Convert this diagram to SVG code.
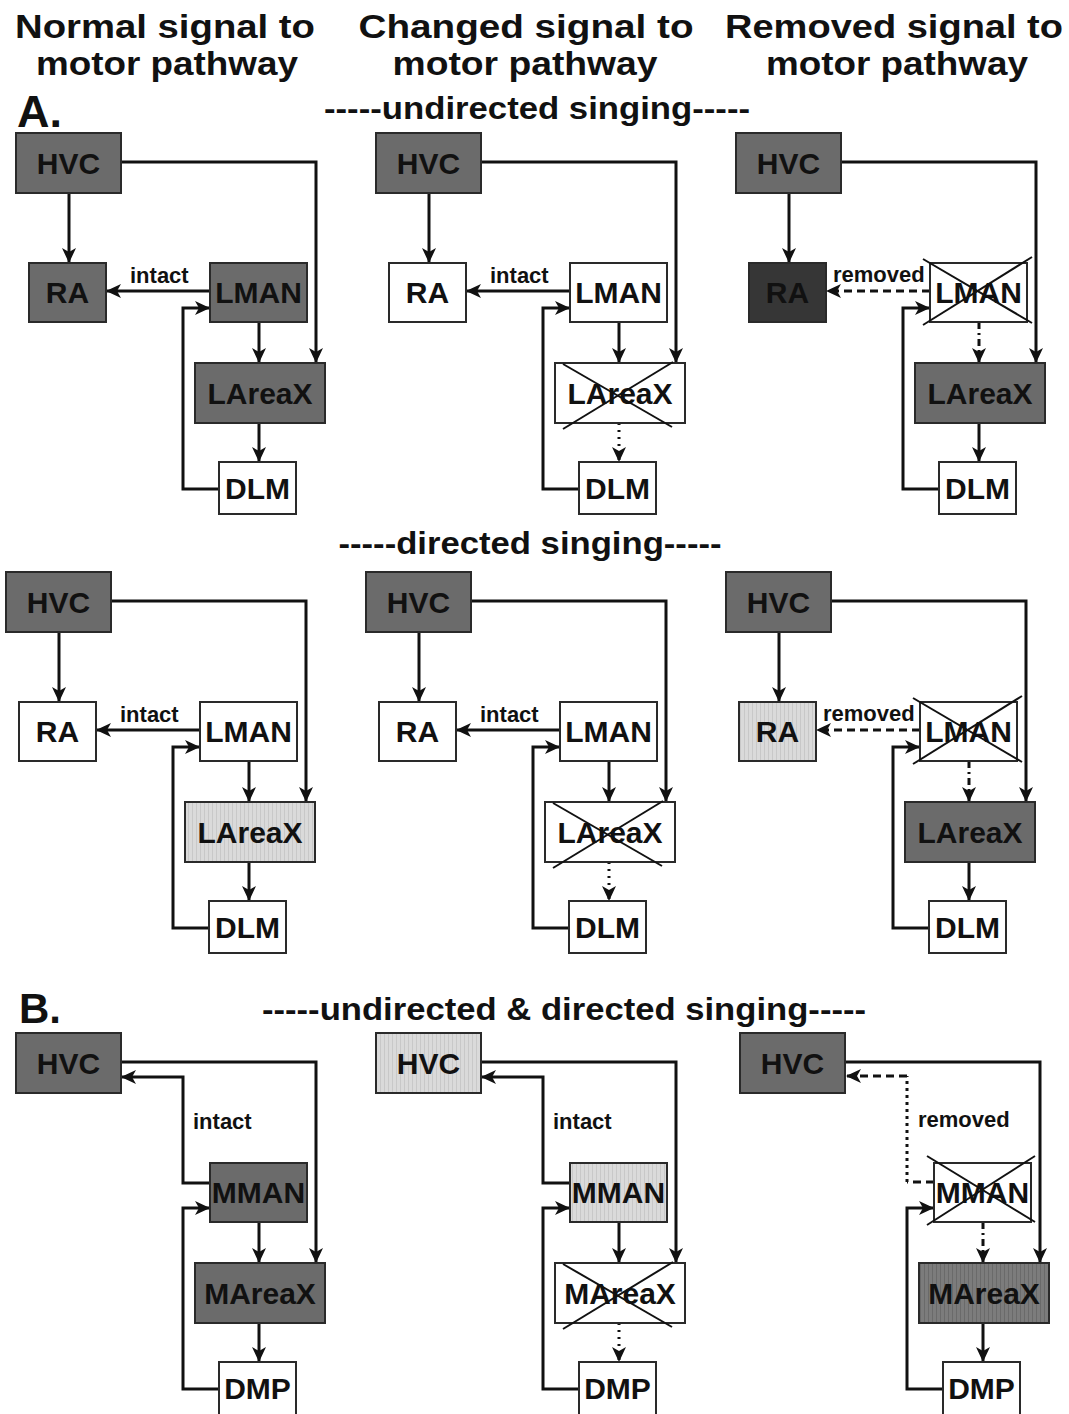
<svg xmlns="http://www.w3.org/2000/svg" width="1069" height="1414" viewBox="0 0 1069 1414">
<defs>
<style>
.bg{fill:#fff}
rect.b{stroke:#2a2a2a;stroke-width:2}
.dark{fill:#6b6b6b}
.vdark{fill:#363636}
.white{fill:#fff}
.light{fill:url(#lt)}
.med{fill:url(#md)}
text{font-family:"Liberation Sans",Arial,sans-serif;font-weight:bold;fill:#111}
.lbl{font-size:30px;text-anchor:middle}
.hd{font-size:34px;text-anchor:middle}
.sub{font-size:32px;text-anchor:middle}
.sm{font-size:22px}
.c{fill:none;stroke:#111;stroke-width:3}
.a{marker-end:url(#arr)}
.dash{stroke-dasharray:8 5}
.dd{stroke-dasharray:7 4 2 4}
.dot{stroke-dasharray:2 5}
.vdot{stroke-dasharray:3 4}
.x{stroke:#111;stroke-width:2}
</style>
<marker id="arr" markerUnits="userSpaceOnUse" markerWidth="16" markerHeight="14" refX="15" refY="7" orient="auto">
<path d="M0,0 L15,7 L0,14 L4,7 Z" fill="#111"/>
</marker>
<pattern id="lt" width="4" height="4" patternUnits="userSpaceOnUse"><rect width="4" height="4" fill="#dadada"/><rect width="1" height="4" fill="#c8c8c8"/></pattern>
<pattern id="md" width="4" height="4" patternUnits="userSpaceOnUse"><rect width="4" height="4" fill="#7c7c7c"/><rect width="1" height="4" fill="#6a6a6a"/></pattern>
</defs>
<rect class="bg" x="0" y="0" width="1069" height="1414"/>

<g id="titles">
<text class="hd" x="165" y="38" textLength="300" lengthAdjust="spacingAndGlyphs">Normal signal to</text>
<text class="hd" x="167" y="75" textLength="262" lengthAdjust="spacingAndGlyphs">motor pathway</text>
<text class="hd" x="526" y="38" textLength="335" lengthAdjust="spacingAndGlyphs">Changed signal to</text>
<text class="hd" x="525" y="75" textLength="265" lengthAdjust="spacingAndGlyphs">motor pathway</text>
<text class="hd" x="894" y="38" textLength="338" lengthAdjust="spacingAndGlyphs">Removed signal to</text>
<text class="hd" x="897" y="75" textLength="262" lengthAdjust="spacingAndGlyphs">motor pathway</text>
<text x="17" y="127" style="font-size:45px">A.</text>
<text class="sub" x="537" y="119" textLength="426" lengthAdjust="spacingAndGlyphs">-----undirected singing-----</text>
<text class="sub" x="530" y="554" textLength="383" lengthAdjust="spacingAndGlyphs">-----directed singing-----</text>
<text x="19" y="1023" style="font-size:42px">B.</text>
<text class="sub" x="564" y="1020" textLength="604" lengthAdjust="spacingAndGlyphs">-----undirected &amp; directed singing-----</text>
</g>

<g id="connectors">
<!-- Row 1 left -->
<path class="c a" d="M69,193 V263"/>
<path class="c a" d="M121,162 H316 V363"/>
<path class="c a" d="M210,291 H106"/>
<path class="c a" d="M259,322 V363"/>
<path class="c a" d="M259,423 V462"/>
<path class="c a" d="M219,489 H183 V308 H210"/>
<!-- Row 1 middle -->
<path class="c a" d="M429,193 V263"/>
<path class="c a" d="M481,162 H676 V363"/>
<path class="c a" d="M570,291 H466"/>
<path class="c a" d="M619,322 V363"/>
<path class="c a dot" d="M619,423 V462"/>
<path class="c a" d="M579,489 H543 V308 H570"/>
<!-- Row 1 right -->
<path class="c a" d="M789,193 V263"/>
<path class="c a" d="M841,162 H1036 V363"/>
<path class="c a dash" d="M930,291 H826"/>
<path class="c a dd" d="M979,322 V363"/>
<path class="c a" d="M979,423 V462"/>
<path class="c a" d="M939,489 H903 V308 H930"/>
<!-- Row 2 left -->
<path class="c a" d="M59,632 V702"/>
<path class="c a" d="M111,601 H306 V802"/>
<path class="c a" d="M200,730 H96"/>
<path class="c a" d="M249,761 V802"/>
<path class="c a" d="M249,862 V901"/>
<path class="c a" d="M209,928 H173 V747 H200"/>
<!-- Row 2 middle -->
<path class="c a" d="M419,632 V702"/>
<path class="c a" d="M471,601 H666 V802"/>
<path class="c a" d="M560,730 H456"/>
<path class="c a" d="M609,761 V802"/>
<path class="c a dot" d="M609,862 V901"/>
<path class="c a" d="M569,928 H533 V747 H560"/>
<!-- Row 2 right -->
<path class="c a" d="M779,632 V702"/>
<path class="c a" d="M831,601 H1026 V802"/>
<path class="c a dash" d="M920,730 H816"/>
<path class="c a dd" d="M969,761 V802"/>
<path class="c a" d="M969,862 V901"/>
<path class="c a" d="M929,928 H893 V747 H920"/>
<!-- Row 3 left -->
<path class="c a" d="M121,1062 H316 V1263"/>
<path class="c a" d="M210,1183 H183 V1077 H121"/>
<path class="c a" d="M259,1222 V1263"/>
<path class="c a" d="M259,1323 V1362"/>
<path class="c a" d="M219,1389 H183 V1208 H210"/>
<!-- Row 3 middle -->
<path class="c a" d="M481,1062 H676 V1263"/>
<path class="c a" d="M570,1183 H543 V1077 H481"/>
<path class="c a" d="M619,1222 V1263"/>
<path class="c a dot" d="M619,1323 V1362"/>
<path class="c a" d="M579,1389 H543 V1208 H570"/>
<!-- Row 3 right -->
<path class="c a" d="M845,1062 H1040 V1263"/>
<path class="c dash" d="M934,1182 H907"/>
<path class="c vdot" d="M907,1182 V1076"/>
<path class="c a dash" d="M907,1076 H846"/>
<path class="c a dd" d="M983,1222 V1263"/>
<path class="c a" d="M983,1323 V1362"/>
<path class="c a" d="M943,1389 H907 V1208 H934"/>
</g>

<g id="edge-labels">
<text class="sm" x="130" y="283">intact</text>
<text class="sm" x="490" y="283">intact</text>
<text class="sm" x="833" y="282">removed</text>
<text class="sm" x="120" y="722">intact</text>
<text class="sm" x="480" y="722">intact</text>
<text class="sm" x="823" y="721">removed</text>
<text class="sm" x="193" y="1129">intact</text>
<text class="sm" x="553" y="1129">intact</text>
<text class="sm" x="918" y="1127">removed</text>
</g>

<!-- Row 1 left -->
<g id="r1l-hvc"><rect class="b dark" x="16" y="133" width="105" height="60"/><text class="lbl" x="68.5" y="174">HVC</text></g>
<g id="r1l-ra"><rect class="b dark" x="29" y="263" width="77" height="59"/><text class="lbl" x="67.5" y="303">RA</text></g>
<g id="r1l-lman"><rect class="b dark" x="210" y="263" width="97" height="59"/><text class="lbl" x="258.5" y="303">LMAN</text></g>
<g id="r1l-lareax"><rect class="b dark" x="195" y="363" width="130" height="60"/><text class="lbl" x="260" y="404">LAreaX</text></g>
<g id="r1l-dlm"><rect class="b white" x="219" y="462" width="77" height="52"/><text class="lbl" x="257.5" y="499">DLM</text></g>

<!-- Row 1 middle -->
<g id="r1m-hvc"><rect class="b dark" x="376" y="133" width="105" height="60"/><text class="lbl" x="428.5" y="174">HVC</text></g>
<g id="r1m-ra"><rect class="b white" x="389" y="263" width="77" height="59"/><text class="lbl" x="427.5" y="303">RA</text></g>
<g id="r1m-lman"><rect class="b white" x="570" y="263" width="97" height="59"/><text class="lbl" x="618.5" y="303">LMAN</text></g>
<g id="r1m-lareax"><rect class="b white" x="555" y="363" width="130" height="60"/><text class="lbl" x="620" y="404">LAreaX</text><line class="x" x1="563" y1="364" x2="672" y2="427"/><line class="x" x1="673" y1="362" x2="563" y2="429"/></g>
<g id="r1m-dlm"><rect class="b white" x="579" y="462" width="77" height="52"/><text class="lbl" x="617.5" y="499">DLM</text></g>

<!-- Row 1 right -->
<g id="r1r-hvc"><rect class="b dark" x="736" y="133" width="105" height="60"/><text class="lbl" x="788.5" y="174">HVC</text></g>
<g id="r1r-ra"><rect class="b vdark" x="749" y="263" width="77" height="59"/><text class="lbl" x="787.5" y="303">RA</text></g>
<g id="r1r-lman"><rect class="b white" x="930" y="263" width="97" height="59"/><text class="lbl" x="978.5" y="303">LMAN</text><line class="x" x1="923" y1="259" x2="1032" y2="323"/><line class="x" x1="1032" y1="257" x2="923" y2="325"/></g>
<g id="r1r-lareax"><rect class="b dark" x="915" y="363" width="130" height="60"/><text class="lbl" x="980" y="404">LAreaX</text></g>
<g id="r1r-dlm"><rect class="b white" x="939" y="462" width="77" height="52"/><text class="lbl" x="977.5" y="499">DLM</text></g>

<!-- Row 2 left -->
<g id="r2l-hvc"><rect class="b dark" x="6" y="572" width="105" height="60"/><text class="lbl" x="58.5" y="613">HVC</text></g>
<g id="r2l-ra"><rect class="b white" x="19" y="702" width="77" height="59"/><text class="lbl" x="57.5" y="742">RA</text></g>
<g id="r2l-lman"><rect class="b white" x="200" y="702" width="97" height="59"/><text class="lbl" x="248.5" y="742">LMAN</text></g>
<g id="r2l-lareax"><rect class="b light" x="185" y="802" width="130" height="60"/><text class="lbl" x="250" y="843">LAreaX</text></g>
<g id="r2l-dlm"><rect class="b white" x="209" y="901" width="77" height="52"/><text class="lbl" x="247.5" y="938">DLM</text></g>

<!-- Row 2 middle -->
<g id="r2m-hvc"><rect class="b dark" x="366" y="572" width="105" height="60"/><text class="lbl" x="418.5" y="613">HVC</text></g>
<g id="r2m-ra"><rect class="b white" x="379" y="702" width="77" height="59"/><text class="lbl" x="417.5" y="742">RA</text></g>
<g id="r2m-lman"><rect class="b white" x="560" y="702" width="97" height="59"/><text class="lbl" x="608.5" y="742">LMAN</text></g>
<g id="r2m-lareax"><rect class="b white" x="545" y="802" width="130" height="60"/><text class="lbl" x="610" y="843">LAreaX</text><line class="x" x1="553" y1="803" x2="662" y2="866"/><line class="x" x1="663" y1="801" x2="553" y2="868"/></g>
<g id="r2m-dlm"><rect class="b white" x="569" y="901" width="77" height="52"/><text class="lbl" x="607.5" y="938">DLM</text></g>

<!-- Row 2 right -->
<g id="r2r-hvc"><rect class="b dark" x="726" y="572" width="105" height="60"/><text class="lbl" x="778.5" y="613">HVC</text></g>
<g id="r2r-ra"><rect class="b light" x="739" y="702" width="77" height="59"/><text class="lbl" x="777.5" y="742">RA</text></g>
<g id="r2r-lman"><rect class="b white" x="920" y="702" width="97" height="59"/><text class="lbl" x="968.5" y="742">LMAN</text><line class="x" x1="913" y1="698" x2="1022" y2="762"/><line class="x" x1="1022" y1="696" x2="913" y2="764"/></g>
<g id="r2r-lareax"><rect class="b dark" x="905" y="802" width="130" height="60"/><text class="lbl" x="970" y="843">LAreaX</text></g>
<g id="r2r-dlm"><rect class="b white" x="929" y="901" width="77" height="52"/><text class="lbl" x="967.5" y="938">DLM</text></g>

<!-- Row 3 left -->
<g id="r3l-hvc"><rect class="b dark" x="16" y="1033" width="105" height="60"/><text class="lbl" x="68.5" y="1074">HVC</text></g>
<g id="r3l-mman"><rect class="b dark" x="210" y="1163" width="97" height="59"/><text class="lbl" x="258.5" y="1203">MMAN</text></g>
<g id="r3l-mareax"><rect class="b dark" x="195" y="1263" width="130" height="60"/><text class="lbl" x="260" y="1304">MAreaX</text></g>
<g id="r3l-dmp"><rect class="b white" x="219" y="1362" width="77" height="60"/><text class="lbl" x="257.5" y="1399">DMP</text></g>

<!-- Row 3 middle -->
<g id="r3m-hvc"><rect class="b light" x="376" y="1033" width="105" height="60"/><text class="lbl" x="428.5" y="1074">HVC</text></g>
<g id="r3m-mman"><rect class="b light" x="570" y="1163" width="97" height="59"/><text class="lbl" x="618.5" y="1203">MMAN</text></g>
<g id="r3m-mareax"><rect class="b white" x="555" y="1263" width="130" height="60"/><text class="lbl" x="620" y="1304">MAreaX</text><line class="x" x1="563" y1="1264" x2="672" y2="1327"/><line class="x" x1="673" y1="1262" x2="563" y2="1329"/></g>
<g id="r3m-dmp"><rect class="b white" x="579" y="1362" width="77" height="60"/><text class="lbl" x="617.5" y="1399">DMP</text></g>

<!-- Row 3 right -->
<g id="r3r-hvc"><rect class="b dark" x="740" y="1033" width="105" height="60"/><text class="lbl" x="792.5" y="1074">HVC</text></g>
<g id="r3r-mman"><rect class="b white" x="934" y="1163" width="97" height="59"/><text class="lbl" x="982.5" y="1203">MMAN</text><line class="x" x1="927" y1="1156" x2="1035" y2="1222"/><line class="x" x1="1035" y1="1156" x2="927" y2="1225"/></g>
<g id="r3r-mareax"><rect class="b med" x="919" y="1263" width="130" height="60"/><text class="lbl" x="984" y="1304">MAreaX</text></g>
<g id="r3r-dmp"><rect class="b white" x="943" y="1362" width="77" height="60"/><text class="lbl" x="981.5" y="1399">DMP</text></g>
</svg>
